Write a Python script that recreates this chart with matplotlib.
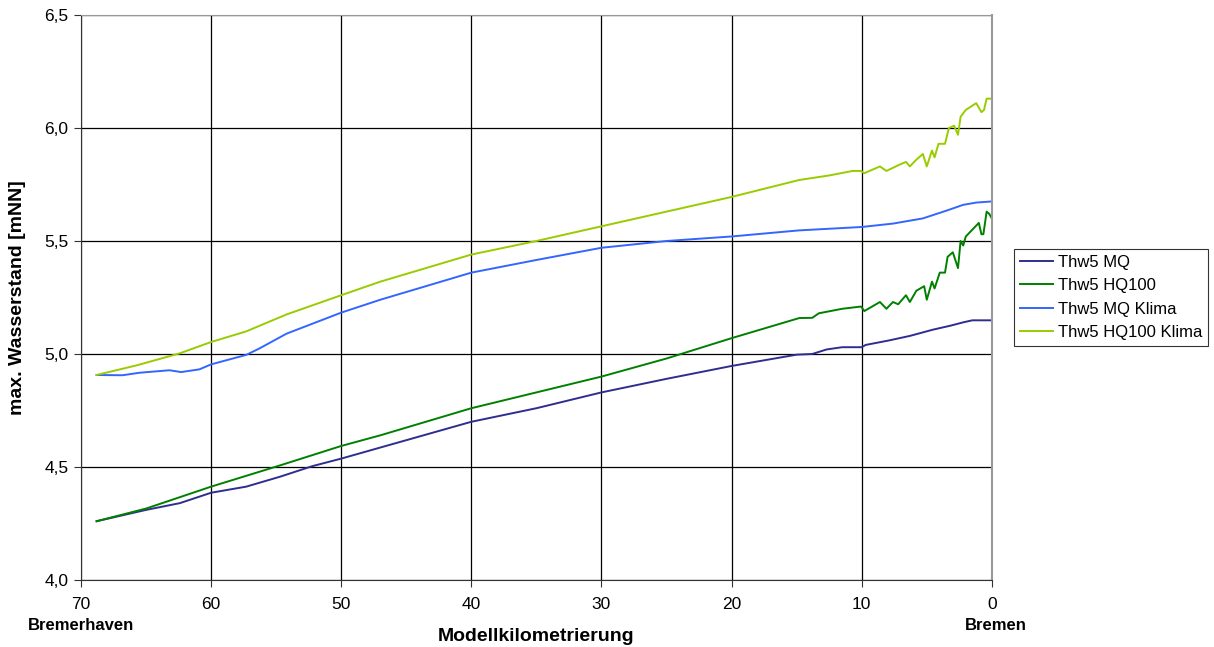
import matplotlib.pyplot as plt
from matplotlib.ticker import MultipleLocator, FuncFormatter

plt.rcParams["font.family"] = ["Liberation Sans", "DejaVu Sans"]

# Modellkilometer (x) and max. Wasserstand (y) per series
km_mq = [68.8, 65.0, 62.4, 60.0, 57.3, 54.7, 52.2, 50.0, 47.0, 40.0, 35.0, 30.0,
         25.0, 20.0, 15.0, 13.8, 12.7, 11.5, 10.0, 9.7, 7.9, 6.3, 4.5, 3.2, 2.2, 1.5, 0.0]
mq = [4.26, 4.31, 4.34, 4.386, 4.413, 4.457, 4.504, 4.537, 4.586, 4.70, 4.76, 4.83,
      4.89, 4.947, 4.997, 5.0, 5.02, 5.03, 5.03, 5.04, 5.06, 5.08, 5.108, 5.125, 5.14, 5.149, 5.149]

km_hq = [68.8, 65.0, 60.0, 54.7, 50.0, 47.0, 40.0, 35.0, 30.0, 25.0, 20.0, 14.8, 13.8,
         13.3, 11.5, 10.05, 9.8, 8.6, 8.1, 7.6, 7.2, 6.6, 6.3, 5.8, 5.2, 5.0, 4.6, 4.4,
         4.0, 3.6, 3.4, 3.0, 2.6, 2.4, 2.2, 2.0, 1.5, 1.0, 0.8, 0.65, 0.4, 0.2, 0.0]
hq100 = [4.26, 4.316, 4.413, 4.507, 4.593, 4.64, 4.76, 4.83, 4.90, 4.98, 5.07, 5.159, 5.16,
         5.18, 5.20, 5.21, 5.19, 5.23, 5.20, 5.23, 5.22, 5.26, 5.23, 5.28, 5.30, 5.24, 5.32, 5.29,
         5.36, 5.36, 5.43, 5.45, 5.38, 5.50, 5.48, 5.52, 5.55, 5.58, 5.53, 5.53, 5.63, 5.62, 5.60]

km_mqk = [68.8, 66.8, 65.5, 63.2, 62.3, 60.9, 60.0, 57.3, 56.3, 54.2, 50.0, 47.0, 40.0,
          35.0, 30.0, 25.0, 20.0, 14.8, 10.0, 7.6, 5.3, 3.5, 2.2, 1.2, 0.0]
mq_klima = [4.907, 4.906, 4.917, 4.928, 4.92, 4.932, 4.954, 4.996, 5.024, 5.09, 5.183, 5.24, 5.36,
            5.416, 5.47, 5.50, 5.52, 5.547, 5.562, 5.577, 5.60, 5.634, 5.66, 5.67, 5.675]

km_hqk = [68.8, 65.7, 62.4, 60.0, 57.3, 54.2, 50.0, 47.0, 40.0, 35.0, 30.0, 25.0, 20.0,
          14.8, 12.5, 10.7, 10.05, 9.8, 8.6, 8.1, 7.2, 6.6, 6.3, 5.8, 5.3, 5.0, 4.6, 4.4,
          4.1, 3.6, 3.3, 2.9, 2.6, 2.4, 2.0, 1.2, 0.8, 0.6, 0.4, 0.0]
hq100_klima = [4.907, 4.95, 5.003, 5.053, 5.10, 5.175, 5.26, 5.32, 5.44, 5.50, 5.565, 5.63, 5.695,
               5.77, 5.79, 5.81, 5.81, 5.80, 5.83, 5.81, 5.835, 5.85, 5.83, 5.86, 5.885, 5.83, 5.90, 5.87,
               5.93, 5.93, 6.00, 6.01, 5.97, 6.05, 6.08, 6.11, 6.07, 6.08, 6.13, 6.13]

fig = plt.figure(figsize=(12.14, 6.47), dpi=100)
ax = fig.add_axes([0.0667, 0.1036, 0.7503, 0.8732])

ax.plot(km_mq, mq, color="#2E2E8F", lw=1.4, label="Thw5 MQ")
ax.plot(km_hq, hq100, color="#008000", lw=1.4, label="Thw5 HQ100")
ax.plot(km_mqk, mq_klima, color="#3366FF", lw=1.4, label="Thw5 MQ Klima")
ax.plot(km_hqk, hq100_klima, color="#99CC00", lw=1.4, label="Thw5 HQ100 Klima")

ax.set_xlim(70, 0)
ax.set_ylim(4.0, 6.5)
ax.xaxis.set_major_locator(MultipleLocator(10))
ax.yaxis.set_major_locator(MultipleLocator(0.5))
ax.yaxis.set_major_formatter(FuncFormatter(lambda v, p: f"{v:.1f}".replace(".", ",")))
ax.grid(True, color="black", lw=0.9)
ax.tick_params(labelsize=12.5, length=5, direction="out", color="#333333")
ax.tick_params(axis="y", pad=4)
ax.tick_params(axis="x", pad=7)

ax.spines["left"].set_color("#333333")
ax.spines["bottom"].set_color("#333333")
ax.spines["top"].set_color("#999999")
ax.spines["right"].set_color("#999999")
ax.spines["right"].set_linewidth(1.5)

fig.text(0.0148, 0.54, "max. Wasserstand [mNN]", fontsize=14, fontweight="bold",
         rotation=90, ha="center", va="center")
fig.text(0.4415, 0.0155, "Modellkilometrierung", fontsize=14, fontweight="bold",
         ha="center", va="center")
fig.text(0.0667, 0.034, "Bremerhaven", fontsize=12, fontweight="bold", ha="center", va="center")
fig.text(0.820, 0.034, "Bremen", fontsize=12, fontweight="bold", ha="center", va="center")

leg = ax.legend(loc="center left", bbox_to_anchor=(1.024, 0.5), fontsize=12,
                frameon=True, fancybox=False, handlelength=2.0, borderpad=0.35,
                labelspacing=0.5, handletextpad=0.3, borderaxespad=0)
leg.get_frame().set_edgecolor("black")
leg.get_frame().set_linewidth(0.8)

fig.savefig("out.png", dpi=100)
